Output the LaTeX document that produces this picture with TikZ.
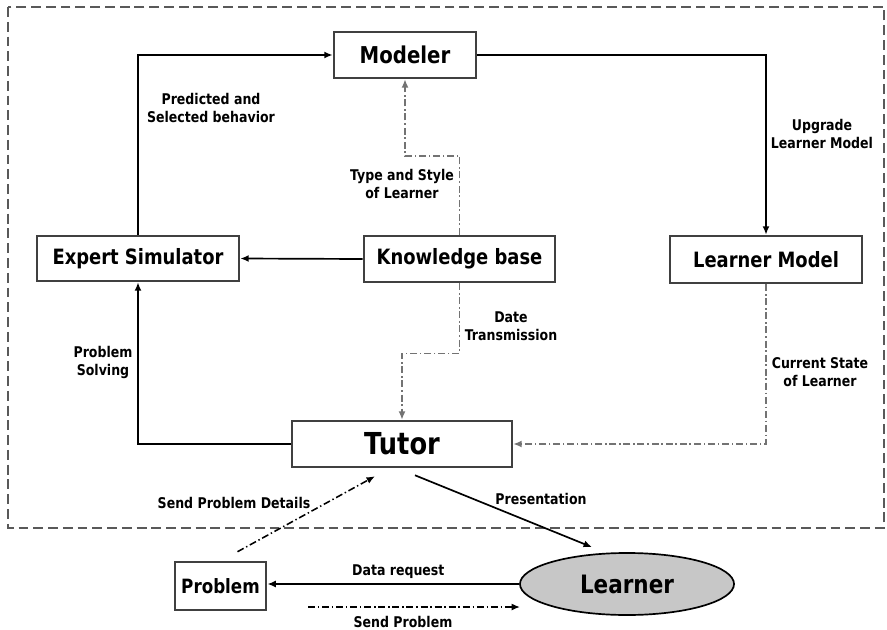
\documentclass[tikz,border=0pt]{standalone}
\usepackage{fontspec}
\setmainfont{DejaVu Sans}[FakeStretch=0.85]
\usetikzlibrary{arrows.meta,shapes.geometric}

\newcommand{\lblfont}{\fontsize{10.5}{12.8}\selectfont\bfseries}

\begin{document}
\begin{tikzpicture}[
    x=0.025cm, y=-0.025cm,
    unit/.style={
        draw=black!75,
        line width=1.8pt,
        fill=white,
        inner sep=0pt,
        font=\fontsize{15}{18}\selectfont\bfseries
    },
    flow/.style={
        -{Latex[length=6pt,width=5pt]},
        line width=1.2pt
    },
    info/.style={
        -{Latex[length=6pt,width=5pt]},
        line width=1.1pt,
        black!55,
        dash pattern=on 5pt off 2pt on 1pt off 2pt
    },
    send/.style={
        -{Latex[length=6pt,width=5pt]},
        line width=1.1pt,
        dash pattern=on 5pt off 2pt on 1pt off 2pt
    },
    hint/.style={
        font=\lblfont,
        align=center
    }
]
\useasboundingbox (0,0) rectangle (887,630);

% frame round the system
\draw[black!65, line width=2pt, dash pattern=on 7pt off 3.5pt] (8,7) rectangle (884,528);

\node[unit, minimum width=3.55cm, minimum height=1.15cm, font=\fontsize{16.5}{19}\selectfont\bfseries] (modeler) at (405,55) {Modeler};
\node[unit, minimum width=5.05cm, minimum height=1.125cm] (expert) at (138,258.5) {Expert Simulator};
\node[unit, minimum width=4.78cm, minimum height=1.15cm] (kbase) at (459.5,259) {Knowledge base};
\node[unit, minimum width=4.8cm, minimum height=1.175cm] (lmodel) at (766,259.5) {Learner Model};
\node[unit, minimum width=5.5cm, minimum height=1.15cm, font=\fontsize{21.5}{25}\selectfont\bfseries] (tutor) at (402,444) {Tutor};
\node[unit, minimum width=2.28cm, minimum height=1.2cm, font=\fontsize{14}{17}\selectfont\bfseries] (problem) at (220.5,586) {Problem};
\node[ellipse, draw=black, line width=1.2pt, fill=black!22, minimum width=5.35cm, minimum height=1.55cm, font=\fontsize{18}{21}\selectfont\bfseries] (learner) at (627,584) {Learner};

\coordinate (sp1) at (308,607);
\coordinate (sp2) at (520,607);

\draw[flow] (expert.north) |- (modeler.west);
\draw[flow] (modeler.east) -| (lmodel.north);
\draw[flow] (kbase.west) -- (expert.east);
\draw[flow] (tutor.west) -| (expert.south);
\draw[info] (kbase.north) -- ++(0,-79) -| (modeler.south);
\draw[info] (kbase.south) -- ++(0,70) -| (tutor.north);
\draw[info] (lmodel.south) |- (tutor.east);
\draw[send] ([shift={(17,-9)}]problem.north) -- ([shift={(-27,8)}]tutor.south);
\draw[flow] ([shift={(13,7)}]tutor.south) -- ([shift={(-35,-5)}]learner.north);
\draw[flow] (learner.west) -- node[hint, above, pos=0.48] (lreq) {Data request} (learner.west -| problem.east);
\draw[send] (sp1) -- (sp2);

\node[hint] (lpred) at (211,108) {Predicted and\\Selected behavior};
\node[hint] (lupg) at (822,134) {Upgrade\\Learner Model};
\node[hint] (ltype) at (402,184) {Type and Style\\of Learner};
\node[hint] (ldate) at (511,326) {Date\\Transmission};
\node[hint] (lsolve) at (103,362) {Problem\\Solving};
\node[hint] (lstate) at (820,372) {Current State\\of Learner};
\node[hint] (ldet) at (234,503) {Send Problem Details};
\node[hint] (lpres) at (541,499) {Presentation};
\node[hint] (lsend) at (403,622) {Send Problem};

\end{tikzpicture}
\end{document}
